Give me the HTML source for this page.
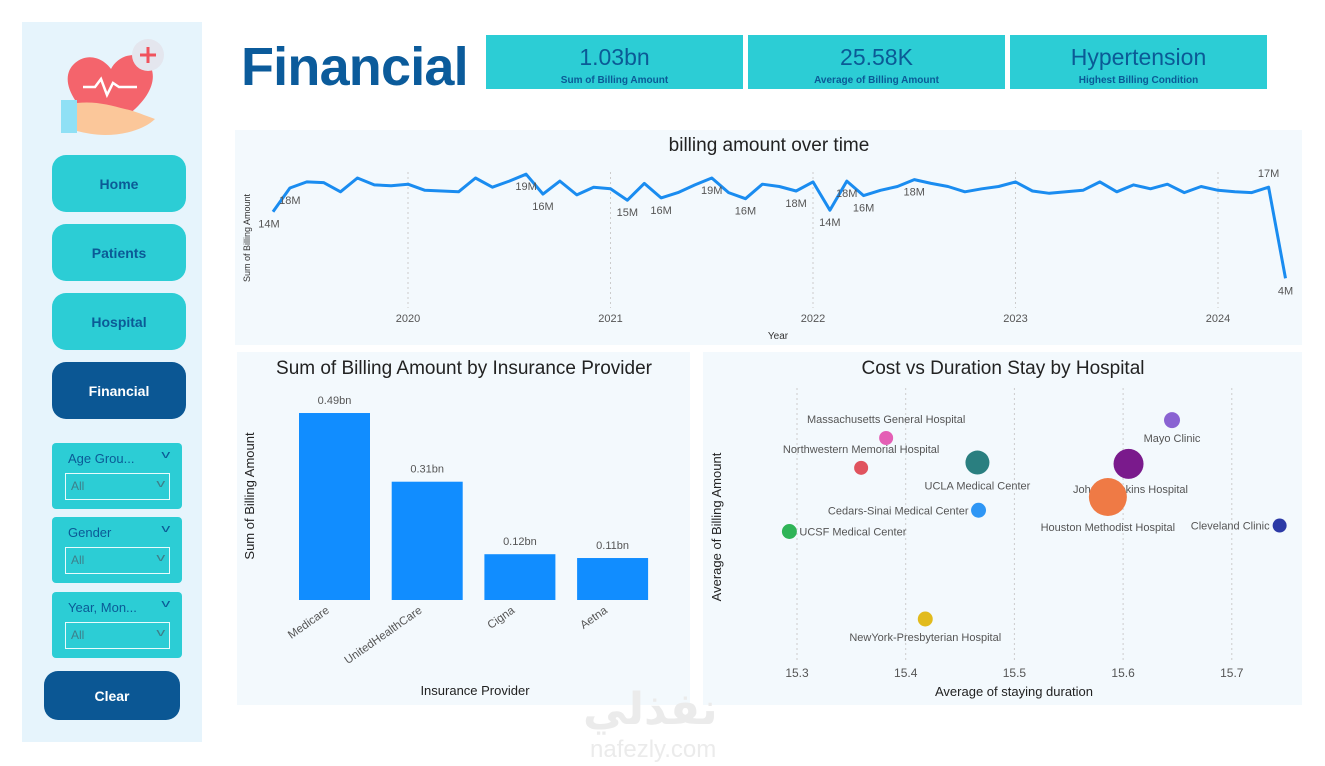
<!DOCTYPE html>
<html><head><meta charset="utf-8">
<style>
*{box-sizing:border-box;margin:0;padding:0}
body{width:1325px;height:766px;background:#fff;font-family:"Liberation Sans",sans-serif;position:relative;overflow:hidden}
.abs{position:absolute}
.side{left:22px;top:22px;width:180px;height:720px;background:#e6f4fc}
.nav{left:52px;width:134px;height:57px;border-radius:14px;background:#2ccdd5;color:#0b5a96;font-weight:bold;font-size:14px;display:flex;align-items:center;justify-content:center}
.nav.active{background:#0b5794;color:#fff}
.slicer{left:52px;width:130px;height:66px;background:#2ccdd5;border-radius:4px}
.slicer .t{position:absolute;left:16px;top:8px;font-size:13px;color:#0b5a96}
.slicer .c1{position:absolute;right:14px;top:6px;font-size:11px;color:#0b5a96;transform:scaleX(1.6)}
.slicer .box{position:absolute;left:13px;top:30px;width:105px;height:27px;border:1px solid #e8fbfc;font-size:12px;color:#3d7f8a;padding:5px 0 0 5px}
.slicer .box span{position:absolute;right:6px;top:4px;transform:scaleX(1.6);font-size:11px}
.card{top:35px;width:257px;height:54px;background:#2ccdd5;color:#0b5a96;text-align:center}
.card .v{font-size:23px;margin-top:9px;line-height:26px}
.card .l{font-size:10px;font-weight:bold;margin-top:5px}
.panel{background:#f3f9fd}
svg text{font-family:"Liberation Sans",sans-serif}
</style></head><body>
<div class="abs side"></div>
<svg class="abs" style="left:55px;top:35px" width="115" height="105">
<path d="M50 95 C10 65 6 40 20 28 C34 16 50 25 56 34 C62 22 80 14 92 26 C106 42 96 70 50 95Z" fill="#f4646c"/>
<path d="M22 65 L22 98 L6 98 L6 65Z" fill="#8fe0f5"/>
<path d="M22 68 C40 66 55 70 70 74 C80 76 88 80 100 84 C90 94 70 100 50 100 C40 100 30 98 22 96Z" fill="#fbc79a"/>
<polyline points="28,52 40,52 46,44 52,60 58,48 64,52 82,52" fill="none" stroke="#fff" stroke-width="2.5"/>
<circle cx="93" cy="20" r="16" fill="#e4e6ee"/>
<path d="M93 12 V28 M85 20 H101" stroke="#f0525c" stroke-width="3"/>
</svg>
<div class="abs nav" style="top:155px">Home</div>
<div class="abs nav" style="top:224px">Patients</div>
<div class="abs nav" style="top:293px">Hospital</div>
<div class="abs nav active" style="top:362px">Financial</div>
<div class="abs slicer" style="top:443px"><div class="t">Age Grou...</div><div class="c1">v</div><div class="box">All<span>v</span></div></div>
<div class="abs slicer" style="top:517px"><div class="t">Gender</div><div class="c1">v</div><div class="box">All<span>v</span></div></div>
<div class="abs slicer" style="top:592px"><div class="t">Year, Mon...</div><div class="c1">v</div><div class="box">All<span>v</span></div></div>
<div class="abs nav active" style="left:44px;top:671px;width:136px;height:49px">Clear</div>

<div class="abs" style="left:241px;top:36px;font-size:54px;font-weight:bold;color:#0b5b9b;letter-spacing:-0.8px">Financial</div>
<div class="abs card" style="left:486px"><div class="v">1.03bn</div><div class="l">Sum of Billing Amount</div></div>
<div class="abs card" style="left:748px"><div class="v">25.58K</div><div class="l">Average of Billing Amount</div></div>
<div class="abs card" style="left:1010px"><div class="v">Hypertension</div><div class="l">Highest Billing Condition</div></div>

<div class="abs panel" style="left:235px;top:130px;width:1067px;height:215px"></div>
<div class="abs panel" style="left:237px;top:352px;width:453px;height:353px"></div>
<div class="abs panel" style="left:703px;top:352px;width:599px;height:353px"></div>

<svg class="abs" style="left:0;top:0" width="1325" height="766" id="charts"></svg>

<div class="abs" style="left:583px;top:684px;font-size:44px;font-weight:bold;color:#ebebeb;font-family:'DejaVu Sans',sans-serif">نفذلي</div>
<div class="abs" style="left:590px;top:736px;font-size:24px;color:#ebebeb">nafezly.com</div>

<script>
// Line chart data (monthly, May 2019 - May 2024), values in millions
const lineValues=[14.0,17.1,17.9,17.8,16.6,18.4,17.5,17.4,17.6,16.8,16.7,16.6,18.4,17.2,18.0,18.9,16.3,18.0,16.2,17.2,17.0,15.5,17.7,15.8,16.5,17.5,18.4,16.5,15.7,17.6,17.3,16.7,17.9,14.2,18.0,16.1,16.8,17.3,18.2,17.7,17.3,16.6,17.0,17.3,17.9,16.7,16.4,16.6,16.8,17.9,16.6,17.5,17.0,17.6,16.5,17.3,16.8,16.6,16.5,17.2,5.3];
const lineStartMonth=-8; // months relative to Jan 2020
const yearTicks=[2020,2021,2022,2023,2024];
const lineLabelIdx=[0,1,15,16,21,23,26,28,31,33,34,35,38,59,60];
const lineLabelText=["14M","18M","19M","16M","15M","16M","19M","16M","18M","14M","18M","16M","18M","17M","4M"];
// Bar chart data
const barCats=["Medicare","UnitedHealthCare","Cigna","Aetna"];
const barVals=[0.49,0.31,0.12,0.11];
const barLabels=["0.49bn","0.31bn","0.12bn","0.11bn"];
// Scatter data
const hospNames=["Massachusetts General Hospital","Northwestern Memorial Hospital","UCLA Medical Center","Mayo Clinic","Johns Hopkins Hospital","Houston Methodist Hospital","Cedars-Sinai Medical Center","UCSF Medical Center","Cleveland Clinic","NewYork-Presbyterian Hospital"];
const hospStay=[15.382,15.359,15.466,15.645,15.605,15.586,15.467,15.293,15.744,15.418];
const hospCost=[25.673,25.628,25.636,25.700,25.634,25.584,25.564,25.532,25.541,25.400];
const hospSize=[49,49,144,64,225,361,56,56,49,56];
const xTicks=[15.3,15.4,15.5,15.6,15.7];

const NS="http://www.w3.org/2000/svg";
const svg=document.getElementById('charts');
function mk(tag,attrs,parent){const e=document.createElementNS(NS,tag);for(const k in attrs)e.setAttribute(k,attrs[k]);(parent||svg).appendChild(e);return e;}
function txt(s,attrs){const e=mk('text',attrs);e.textContent=s;return e;}

// ---- Line chart
const lx=m=>408+m*16.875;
const ly=v=>211.7-(v-14)*7.65;
let t=txt('billing amount over time',{x:769,y:151,'text-anchor':'middle','font-size':19,fill:'#222'});

yearTicks.forEach((yr,i)=>{
  const x=lx((yr-2020)*12);
  const g=mk('line',{x1:x,x2:x,y1:172,y2:308,stroke:'#ccc','stroke-dasharray':'2,3'});
  
  const l=txt(String(yr),{x:x,y:322,'text-anchor':'middle','font-size':11,fill:'#555'});
  
});
t=txt('Year',{x:778,y:339,'text-anchor':'middle','font-size':10,fill:'#333'});

t=txt('Sum of Billing Amount',{x:0,y:0,transform:'translate(250,238) rotate(-90)','text-anchor':'middle','font-size':9,fill:'#333'});

const pts=lineValues.map((v,i)=>lx(lineStartMonth+i).toFixed(1)+','+ly(v).toFixed(1)).join(' ');
const pl=mk('polyline',{points:pts,fill:'none',stroke:'#1a8cf0','stroke-width':3,'stroke-linejoin':'round'});

lineLabelIdx.forEach((idx,k)=>{
  const x=lx(lineStartMonth+idx),y=ly(lineValues[idx]);
  const above=(idx===59);
  const l=txt(lineLabelText[k],{x:x+(idx===0?2:6)-6,y:above?y-10:y+16,'text-anchor':'middle','font-size':11,fill:'#555'});
  
});

// ---- Bar chart
t=txt('Sum of Billing Amount by Insurance Provider',{x:464,y:374,'text-anchor':'middle','font-size':19,fill:'#222'});

const by=v=>600-v*381.6;
barCats.forEach((c,i)=>{
  const x=299+i*92.7;
  const r=mk('rect',{x:x,y:by(barVals[i]),width:71,height:600-by(barVals[i]),fill:'#118dff'});
  
  const l=txt(barLabels[i],{x:x+35.5,y:by(barVals[i])-9,'text-anchor':'middle','font-size':11,fill:'#555'});
  
  const cl=txt(c,{x:0,y:0,transform:`translate(${x+31},${612}) rotate(-35)`,'text-anchor':'end','font-size':11.5,fill:'#555'});
  
});
t=txt('Insurance Provider',{x:475,y:695,'text-anchor':'middle','font-size':13,fill:'#222'});

t=txt('Sum of Billing Amount',{x:0,y:0,transform:'translate(254,496) rotate(-90)','text-anchor':'middle','font-size':13,fill:'#222'});


// ---- Scatter
t=txt('Cost vs Duration Stay by Hospital',{x:1003,y:374,'text-anchor':'middle','font-size':19,fill:'#222'});

const sx=v=>797+(v-15.3)*1087;
const sy=v=>619-(v-25.40)*663;
xTicks.forEach(v=>{
  const x=sx(v);
  const g=mk('line',{x1:x,x2:x,y1:388,y2:660,stroke:'#ccc','stroke-dasharray':'2,3'});
  
  const l=txt(v.toFixed(1),{x:x,y:677,'text-anchor':'middle','font-size':12,fill:'#555'});
  
});
t=txt('Average of staying duration',{x:1014,y:696,'text-anchor':'middle','font-size':13,fill:'#222'});

t=txt('Average of Billing Amount',{x:0,y:0,transform:'translate(721,527) rotate(-90)','text-anchor':'middle','font-size':13,fill:'#222'});

const colors=['#e45fb5','#e0535e','#2a7f80','#8a63d2','#7a1a8c','#ef7a45','#2e96f5','#2fb457','#2c3aa6','#e2bb1d'];
const lblPos=[[0,-15,'middle'],[0,-15,'middle'],[0,27,'middle'],[0,22,'middle'],[2,29,'middle'],[0,34,'middle'],[-10,4,'end'],[10,4,'start'],[-10,4,'end'],[0,22,'middle']];
hospNames.forEach((n,i)=>{
  const x=sx(hospStay[i]),y=sy(hospCost[i]),r=Math.sqrt(hospSize[i]);
  const c=mk('circle',{cx:x,cy:y,r:r,fill:colors[i]});
  
  const p=lblPos[i];
  const l=txt(n,{x:x+p[0],y:y+p[1],'text-anchor':p[2],'font-size':11,fill:'#555'});
  
});
</script>
</body></html>
